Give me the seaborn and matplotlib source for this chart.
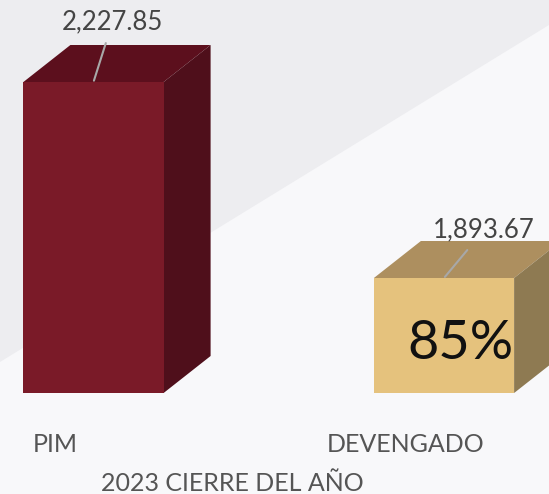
import matplotlib
matplotlib.use("Agg")
import matplotlib.pyplot as plt
import matplotlib.transforms as mtransforms
from matplotlib.patches import Polygon
import seaborn as sns
import pandas as pd

# ---- data ----
categories = ["PIM", "DEVENGADO"]
values = [2227.85, 1893.67]
front_colors = ["#7a1a28", "#e5c27d"]
top_colors = ["#5c0f1d", "#ad8f5f"]
side_colors = ["#4f0f1b", "#8e7a52"]
title = "2023 CIERRE DEL AÑO"
pct = round(values[1] / values[0] * 100)

df = pd.DataFrame({"cat": categories, "val": values})

sns.set_theme(style="white")
plt.rcParams["font.family"] = ["Lato", "DejaVu Sans"]

W, H = 549, 494
fig = plt.figure(figsize=(W / 100, H / 100), dpi=100)
fig.patch.set_facecolor("#f8f8fa")
# background diagonal shade
fig.patches.append(Polygon([(0, 1), (1, 1), (1, 1 - 25 / H), (0, 1 - 362 / H)],
                           closed=True, transform=fig.transFigure,
                           facecolor="#ededf0", edgecolor="none", zorder=-10))

# axes placed in pixel layout
base_px = 101  # baseline from bottom
ax = fig.add_axes([0, base_px / H, 1, (H - base_px) / H])
ax.set_facecolor("none")

sns.barplot(data=df, x="cat", y="val", hue="cat", palette=front_colors,
            width=0.40, ax=ax, legend=False, saturation=1, zorder=3,
            edgecolor="none", linewidth=0)

px_per_unit_x = 350.5
ax.set_xlim(-93.5 / px_per_unit_x, (W - 93.5) / px_per_unit_x)
v0 = 1697.6
px_per_val = 311 / (values[0] - v0)
ax.set_ylim(v0, v0 + (H - base_px) / px_per_val)

for s in ax.spines.values():
    s.set_visible(False)
ax.set_yticks([])
ax.tick_params(axis="x", length=0, pad=29, labelsize=18, labelcolor="#555555")
ax.set_xlabel(title, fontsize=18, color="#555555", va="center")
ax.xaxis.set_label_coords(232 / W, (11 - base_px) / (H - base_px))
ax.set_ylabel("")

offset = mtransforms.ScaledTranslation(-38 / 100, 0, fig.dpi_scale_trans)
for lab in ax.get_xticklabels():
    lab.set_transform(lab.get_transform() + offset)

fig.canvas.draw()

# 3D faces from bar geometry (pixel offsets for depth)
dx, dy = 47, 37
ident = mtransforms.IdentityTransform()
for i, p in enumerate(ax.patches[:len(values)]):
    ybot = max(p.get_y(), ax.get_ylim()[0])
    (x0, y0), (x1, y1) = ax.transData.transform([(p.get_x(), ybot),
                                                (p.get_x() + p.get_width(), p.get_y() + p.get_height())])
    top = Polygon([(x0, y1), (x1, y1), (x1 + dx, y1 + dy), (x0 + dx, y1 + dy)],
                  closed=True, facecolor=top_colors[i], edgecolor="none", zorder=2)
    side = Polygon([(x1, y0), (x1 + dx, y0 + dy), (x1 + dx, y1 + dy), (x1, y1)],
                   closed=True, facecolor=side_colors[i], edgecolor="none", zorder=2)
    for poly in (top, side):
        poly.set_transform(ident)
        ax.add_artist(poly)

# value labels with leader lines
label_offsets = [(19, 60), (40, 48)]
for i, v in enumerate(values):
    ax.annotate(f"{v:,.2f}", xy=(i, v), xytext=label_offsets[i], textcoords="offset pixels",
                ha="center", va="center", fontsize=18.5, color="#444444",
                arrowprops=dict(arrowstyle="-", color="#a8a8a8", lw=1.5, shrinkA=4, shrinkB=1),
                zorder=6)

# percentage on DEVENGADO
bar = ax.patches[1]
ax.text(bar.get_x() + bar.get_width() - 1 / px_per_unit_x, v0 + (values[1] - v0) / 2 - 8 / px_per_val,
        f"{pct}%", ha="right", va="center", fontsize=39, color="#111111", zorder=6)

fig.savefig("out.png", dpi=100, facecolor=fig.get_facecolor())
